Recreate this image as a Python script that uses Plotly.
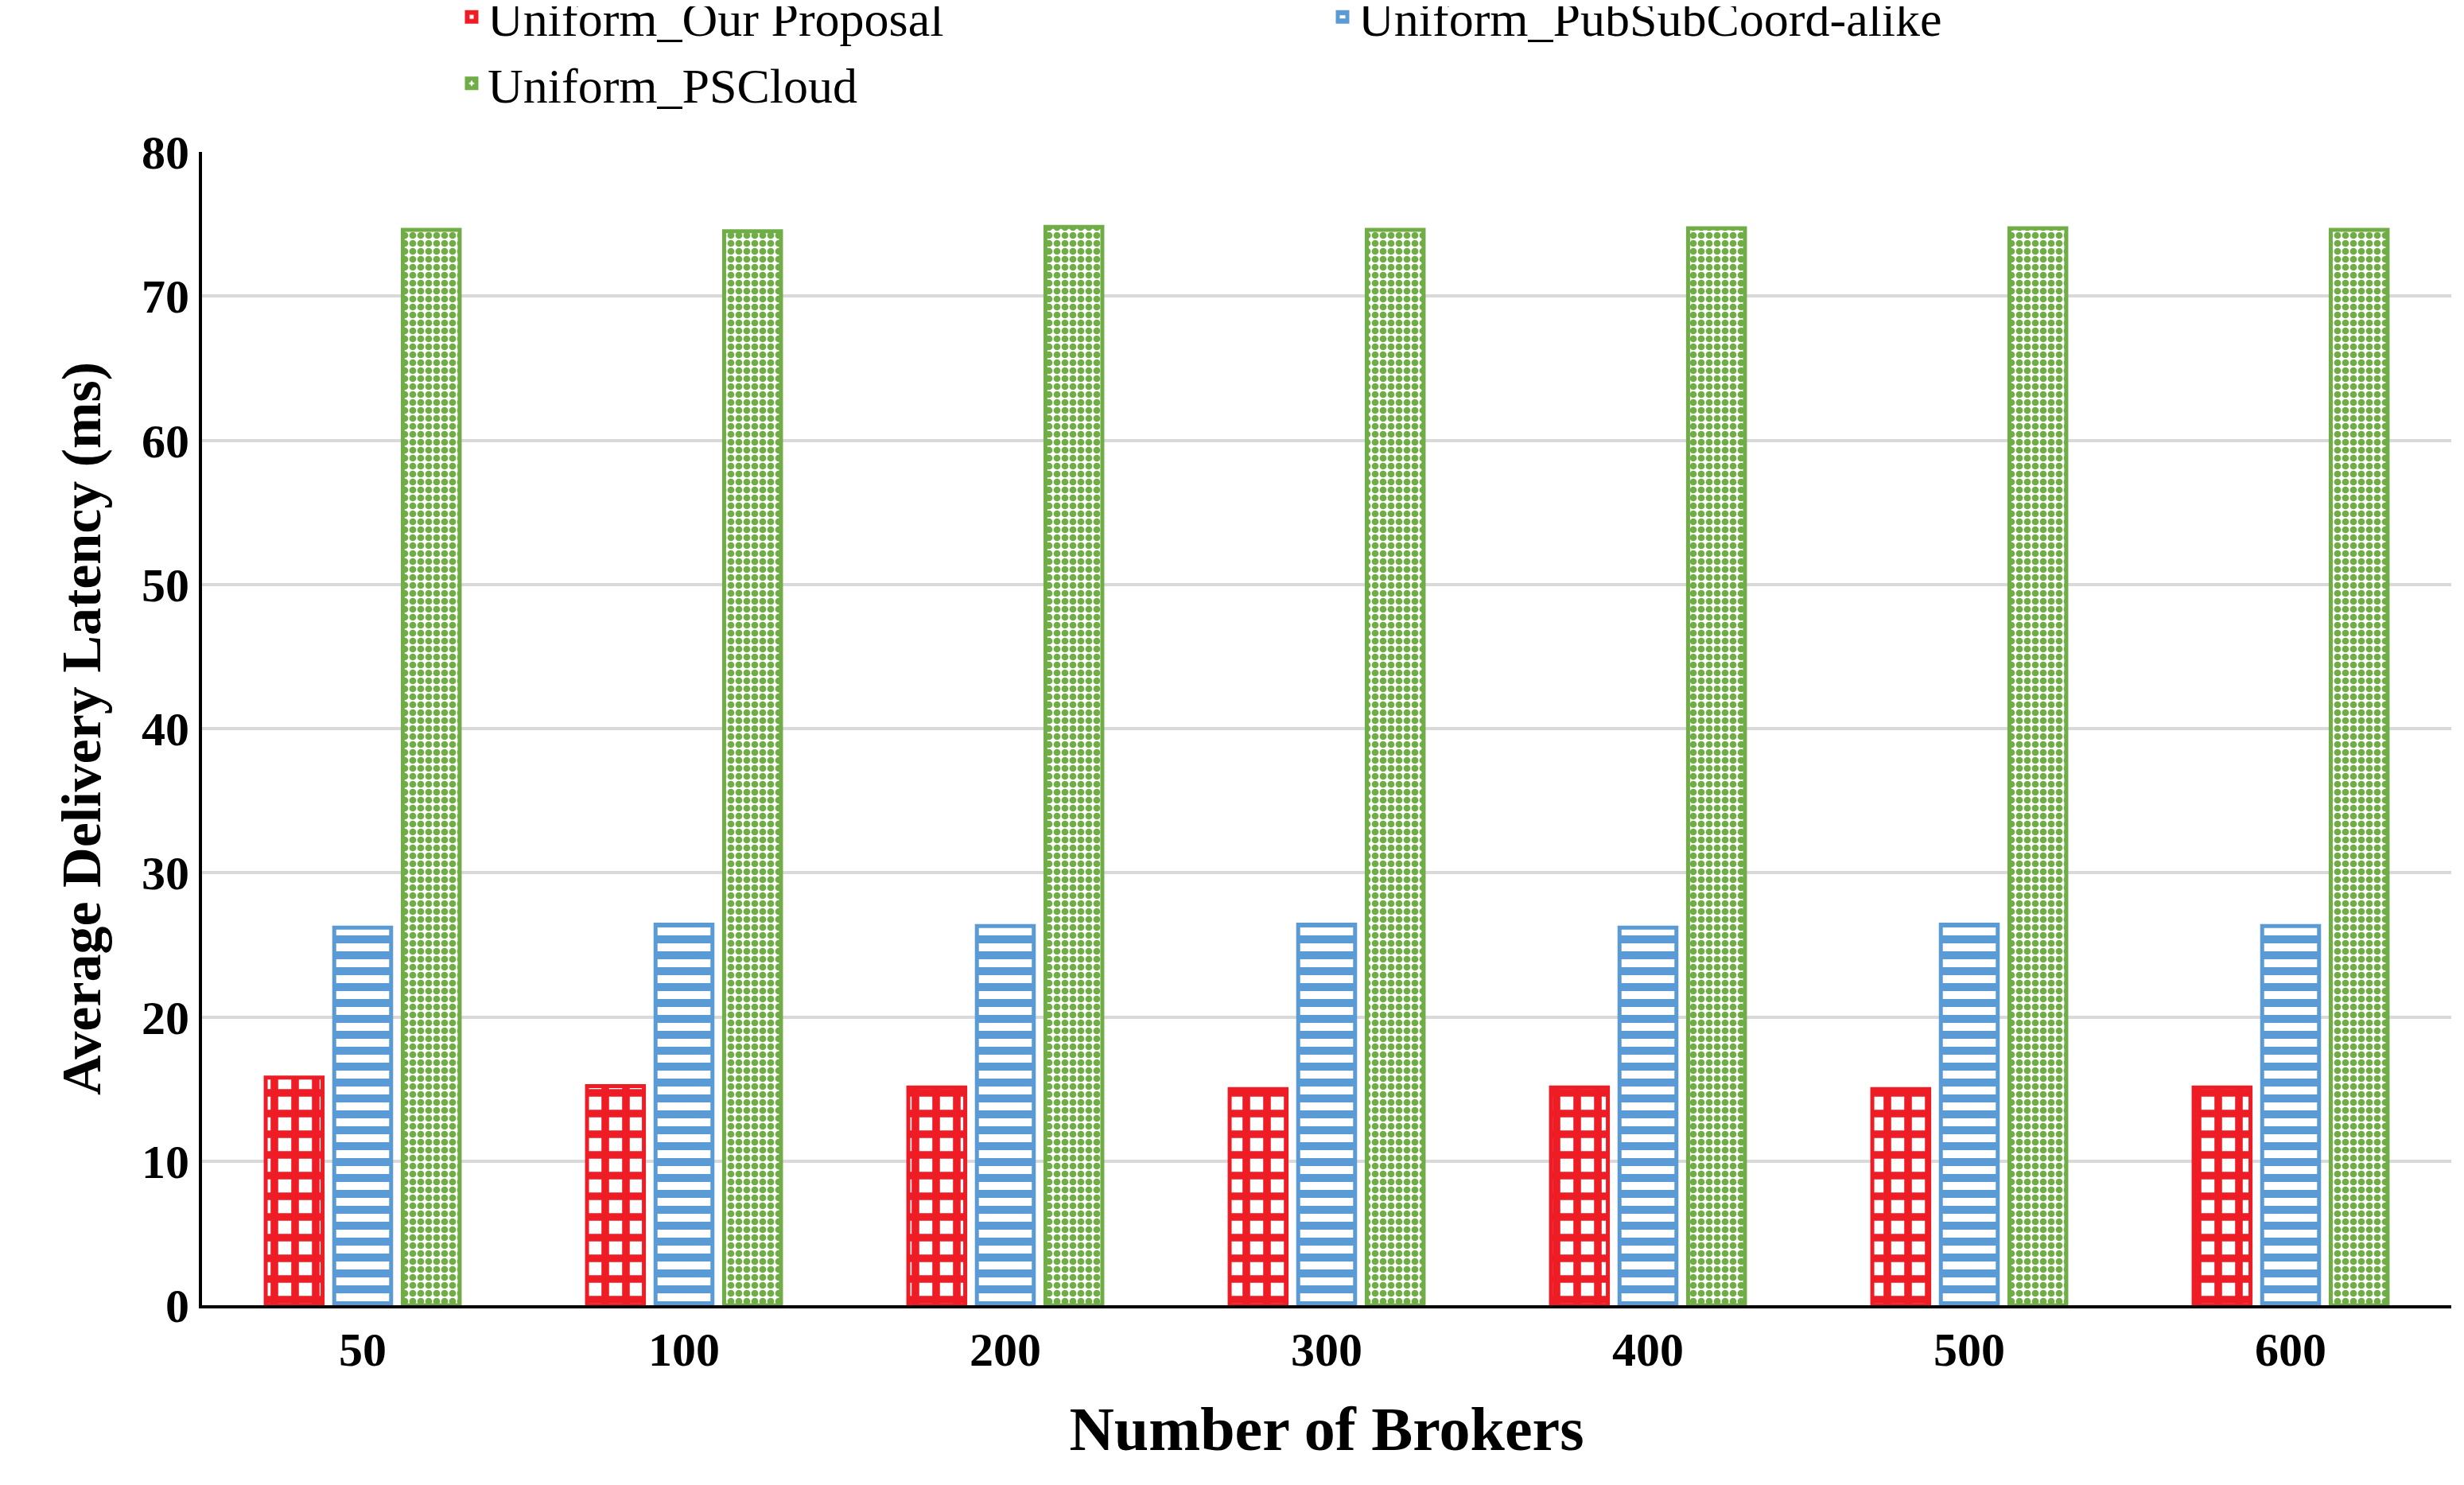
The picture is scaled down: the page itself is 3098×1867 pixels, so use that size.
import plotly.graph_objects as go

brokers = ["50", "100", "200", "300", "400", "500", "600"]
our_proposal = [15.8, 15.2, 15.1, 15.0, 15.1, 15.0, 15.1]
pubsubcoord = [26.2, 26.4, 26.3, 26.4, 26.2, 26.4, 26.3]
pscloud = [74.6, 74.5, 74.8, 74.6, 74.7, 74.7, 74.6]

series = [
    ("Uniform_Our Proposal", our_proposal, "#ee1c25", "+", 26, 0.6),
    ("Uniform_PubSubCoord-alike", pubsubcoord, "#5b9bd5", "-", 20, 0.5),
    ("Uniform_PSCloud", pscloud, "#70ad47", ".", 10, 0.6),
]

fig = go.Figure()
for name, vals, col, shape, size, sol in series:
    fig.add_trace(go.Bar(
        x=brokers, y=vals, name=name,
        marker=dict(color="white", line=dict(color=col, width=5),
                    pattern=dict(shape=shape, fgcolor=col, bgcolor="white",
                                 size=size, solidity=sol, fillmode="replace")),
    ))

font = "Liberation Serif, Times New Roman, serif"
fig.update_layout(
    width=3098, height=1867,
    plot_bgcolor="white", paper_bgcolor="white",
    barmode="group", bargap=0.36, bargroupgap=0.17,
    margin=dict(l=246, r=24, t=183, b=234, autoexpand=False),
    font=dict(family=font, color="black"),
    legend=dict(orientation="h", x=0.5, xanchor="center", y=1.088, yanchor="middle",
                font=dict(size=62), entrywidth=1050, entrywidthmode="pixels", itemwidth=30),
    xaxis=dict(title=dict(text="<b>Number of Brokers</b>", font=dict(size=78), standoff=40),
               tickfont=dict(size=60, family=font), tickprefix="<b>", ticksuffix="</b>",
               showline=True, linecolor="black", linewidth=4, ticks=""),
    yaxis=dict(title=dict(text="<b>Average Delivery Latency (ms)</b>", font=dict(size=70), standoff=30),
               range=[0, 80], dtick=10, tickfont=dict(size=60, family=font),
               tickprefix="<b>", ticksuffix="</b>",
               showgrid=True, gridcolor="#d9d9d9", gridwidth=4,
               showline=True, linecolor="black", linewidth=4, zeroline=False),
)
fig.write_html("out.html")
